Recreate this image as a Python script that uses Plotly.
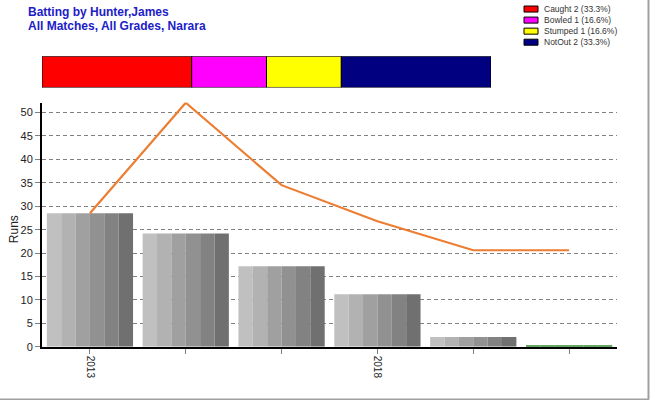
import plotly.graph_objects as go

# ---- data ----
tick_labels = ["2013", "", "", "2018", "", ""]
runs = [28.5, 24.2, 17.2, 11.2, 2.1, 0.3]
average = [28.5, 52.1, 34.5, 26.8, 20.6, 20.6]

dismissal_names = ["Caught 2 (33.3%)", "Bowled 1 (16.6%)", "Stumped 1 (16.6%)", "NotOut 2 (33.3%)"]
dismissal_counts = [2, 1, 1, 2]
dismissal_colors = ["#ff0000", "#ff00ff", "#ffff00", "#000080"]

stripe_colors = ["#c0c0c0", "#b2b2b2", "#a0a0a0", "#919191", "#828282", "#707070"]
zero_color = "#2e8b2e"

W, H = 650, 400
FIG_H = 408  # rendered height ends up slightly shorter than requested
FONT = "Arial, Liberation Sans, sans-serif"


def px(xs):
    return xs / W


def py(ys):
    return 1 - ys / H


idx = list(range(len(runs)))
fig = go.Figure()

# striped grey bars
n = len(stripe_colors)
total_w = 0.9
sw = total_w / n
for k, c in enumerate(stripe_colors):
    cols = [c if v >= 1 else zero_color for v in runs]
    fig.add_trace(go.Bar(
        x=idx, y=runs, width=sw, offset=-total_w / 2 + k * sw,
        marker=dict(color=cols, line=dict(width=0)),
        showlegend=False, hoverinfo="skip", xaxis="x", yaxis="y",
    ))

# average line
fig.add_trace(go.Scatter(
    x=idx, y=average, mode="lines",
    line=dict(color="#ed7d31", width=2.2),
    showlegend=False, xaxis="x", yaxis="y",
))

# dismissal bar at top
base = 0
for name, cnt, col in zip(dismissal_names, dismissal_counts, dismissal_colors):
    fig.add_trace(go.Bar(
        x=[cnt], y=[0], base=[base], orientation="h", width=1,
        marker=dict(color=col, line=dict(color="black", width=1)),
        name=name, showlegend=False, xaxis="x2", yaxis="y2",
    ))
    base += cnt

# custom legend (boxes + text)
shapes = []
annotations = []
for i, (name, col) in enumerate(zip(dismissal_names, dismissal_colors)):
    yc = 9 + i * 11
    shapes.append(dict(type="rect", xref="paper", yref="paper",
                       x0=px(524), x1=px(538), y0=py(yc + 3), y1=py(yc - 3),
                       fillcolor=col, line=dict(color="black", width=1)))
    annotations.append(dict(text=name, x=px(542), y=py(yc), xref="paper", yref="paper",
                            xanchor="left", yanchor="middle", showarrow=False,
                            font=dict(size=8.5, color="#333333", family=FONT)))

annotations += [
    dict(text="<b>Batting by Hunter,James</b>", x=px(26), y=py(12),
         xref="paper", yref="paper", xanchor="left", yanchor="middle",
         showarrow=False, font=dict(size=12, color="#2020c8", family=FONT)),
    dict(text="<b>All Matches, All Grades, Narara</b>", x=px(26), y=py(26),
         xref="paper", yref="paper", xanchor="left", yanchor="middle",
         showarrow=False, font=dict(size=12, color="#2020c8", family=FONT)),
    dict(text="Runs", x=px(14), y=py(228), xref="paper", yref="paper",
         xanchor="center", yanchor="middle", textangle=-90, showarrow=False,
         font=dict(size=12, color="#222222", family=FONT)),
]

shapes += [
    dict(type="line", xref="paper", yref="paper", x0=px(648.5), x1=px(648.5),
         y0=py(397.5), y1=1, line=dict(color="#a0a0a0", width=2)),
    dict(type="line", xref="paper", yref="paper", x0=0, x1=px(649),
         y0=py(397.5), y1=py(397.5), line=dict(color="#a0a0a0", width=2)),
]

fig.update_layout(
    width=W, height=FIG_H,
    margin=dict(l=0, r=0, t=0, b=0),
    paper_bgcolor="white", plot_bgcolor="white",
    barmode="overlay",
    showlegend=False,
    font=dict(family=FONT, size=11, color="#222222"),
    xaxis=dict(
        domain=[px(42), px(617)], range=[-0.5, 5.5],
        tickmode="array", tickvals=idx, ticktext=tick_labels,
        tickangle=90, ticks="outside", ticklen=5, tickcolor="#808080",
        showline=True, linecolor="black", linewidth=2,
        showgrid=False, zeroline=False, tickfont=dict(size=10),
    ),
    yaxis=dict(
        domain=[py(345), py(102)], range=[0, 52.15],
        tickmode="linear", tick0=0, dtick=5,
        ticks="outside", ticklen=5, tickcolor="#808080",
        showline=True, linecolor="black", linewidth=2,
        showgrid=True, gridcolor="#808080", gridwidth=1, griddash="4px,3px",
        zeroline=False, tickfont=dict(size=11),
    ),
    xaxis2=dict(
        domain=[px(42), px(491)], range=[0, sum(dismissal_counts)],
        visible=False, anchor="y2",
    ),
    yaxis2=dict(
        domain=[py(87), py(56)], range=[-0.5, 0.5],
        visible=False, anchor="x2",
    ),
    annotations=annotations,
    shapes=shapes,
)

fig.write_html(
    "out.html",
    config={"displayModeBar": False},
    post_script="document.body.style.margin='0';document.body.style.overflow='hidden';",
)
